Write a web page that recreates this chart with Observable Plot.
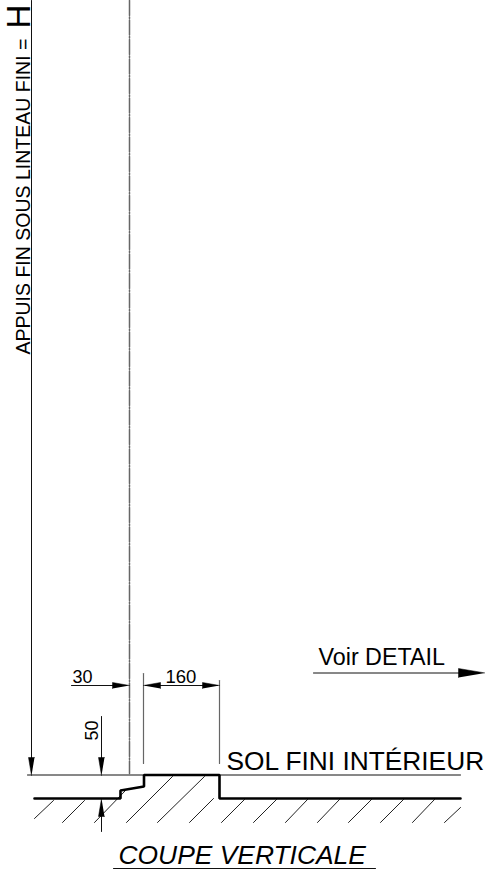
<!DOCTYPE html>
<html><head><meta charset="utf-8">
<style>html,body{margin:0;padding:0;background:#fff}svg{display:block}</style>
<script src="https://cdn.jsdelivr.net/npm/d3@7"></script>
<script src="https://cdn.jsdelivr.net/npm/@observablehq/plot@0.6"></script>
</head><body><div id="chart"></div>
<script>
// Drawing coordinates: [x, y]
const thinSegments = [
  [[31,0],[31,760]],
  [[27,774.5],[460,774.5]],
  [[71,685],[115,685]],
  [[145,685],[217,685]],
  [[101,716],[101,760]],
  [[101,812],[101,831]],
  [[313,672.5],[460,672.5]],
  [[113,868],[375,868]]
];
const extensionLines = [
  [[143,673],[143,763]],
  [[219,680],[219,763]]
];
const centreLine = [[[129,0],[129,773]]];
const profile = [[34,798],[120,798],[120,790],[143.5,786],[143.5,774.5],[219,774.5],[219,798],[460,798]];
const hatches = [
  [[53,800],[34,818]],[[84,800],[62,822]],[[125,790],[94,822]],[[172,776],[126,822]],
  [[204,776],[157,822]],[[213,798],[189,822]],[[244,799],[221,822]],[[276,799],[253,822]],
  [[307,799],[285,822]],[[339,799],[317,822]],[[371,799],[348,822]],[[403,799],[380,822]],
  [[434,799],[412,822]],[[460,807],[444,822]]
];
const arrowheads = [
  [[31,775],[28,757],[34,757]],
  [[101,775],[98,757],[104,757]],
  [[101,798],[98,816],[104,816]],
  [[129,685],[112,682],[112,688]],
  [[143,685],[160,682],[160,688]],
  [[219,685],[202,682],[202,688]],
  [[485,672.5],[458,668],[458,677]]
];
const uprightLabels = [
  {text:"30", x:72, y:682, size:18},
  {text:"160", x:165, y:682, size:18.5},
  {text:"Voir DETAIL", x:318, y:664.5, size:23.3},
  {text:"SOL FINI INTÉRIEUR", x:226, y:769, size:26.3}
];
const italicLabels = [
  {text:"COUPE VERTICALE", x:118, y:863, size:26.4}
];
const verticalLabels = [
  {text:"50", x:97, y:740, size:18},
  {text:"APPUIS FIN SOUS LINTEAU FINI =", x:29, y:354, size:19.5},
  {text:"H", x:29, y:28, size:33}
];

const pathRows = lists => lists.flatMap((pts, id) => pts.map(([x, y]) => ({x, y, id})));
const font = "'Liberation Sans', Arial, sans-serif";

const chart = Plot.plot({
  width: 485, height: 869,
  margin: 0,
  style: {background: "#fff"},
  x: {domain: [0, 485], range: [0, 485], axis: null},
  y: {domain: [0, 869], range: [0, 869], axis: null},
  marks: [
    Plot.line(pathRows(centreLine), {x:"x", y:"y", z:"id", stroke:"#666", strokeWidth:1.5, strokeDasharray:"15 1.5 1.5 1.5"}),
    Plot.line(pathRows(extensionLines), {x:"x", y:"y", z:"id", stroke:"#666", strokeWidth:1.2}),
    Plot.line(pathRows(hatches), {x:"x", y:"y", z:"id", stroke:"#222", strokeWidth:1}),
    Plot.line(pathRows(thinSegments), {x:"x", y:"y", z:"id", stroke:"#111", strokeWidth:1}),
    Plot.line(profile, {x:d=>d[0], y:d=>d[1], stroke:"#000", strokeWidth:2.6, strokeLinejoin:"miter"}),
    Plot.line(pathRows(arrowheads), {x:"x", y:"y", z:"id", fill:"#000", stroke:"#000", strokeWidth:0.5}),
    Plot.text(uprightLabels, {x:"x", y:"y", text:"text", fontSize:"size", textAnchor:"start", lineAnchor:"bottom", fontFamily:font, fill:"#000"}),
    Plot.text(italicLabels, {x:"x", y:"y", text:"text", fontSize:"size", fontStyle:"italic", textAnchor:"start", lineAnchor:"bottom", fontFamily:font, fill:"#000"}),
    Plot.text(verticalLabels, {x:"x", y:"y", text:"text", fontSize:"size", rotate:-90, textAnchor:"start", lineAnchor:"bottom", fontFamily:font, fill:"#000"})
  ]
});
document.getElementById("chart").append(chart);
</script></body></html>
